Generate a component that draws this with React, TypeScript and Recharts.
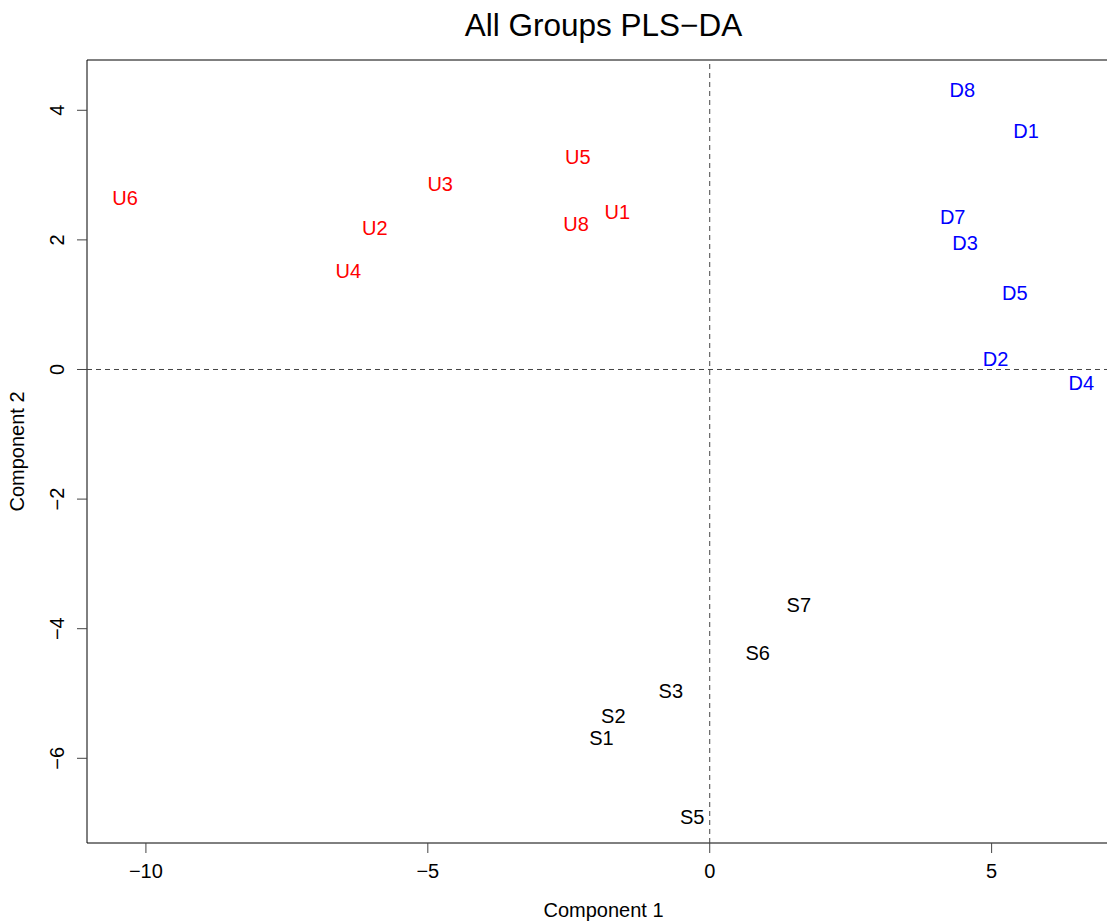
import React from 'react';
import { ReferenceArea, ReferenceLine, Scatter, ScatterChart, XAxis, YAxis } from 'recharts';

const FONT = '"Liberation Sans", Arial, Helvetica, sans-serif';

// group U (red)
const uLabels = ['U1', 'U2', 'U3', 'U4', 'U5', 'U6', 'U8'];
const uX = [-1.64, -5.94, -4.78, -6.41, -2.34, -10.37, -2.37];
const uY = [2.44, 2.19, 2.87, 1.52, 3.28, 2.65, 2.25];

// group D (blue)
const dLabels = ['D1', 'D2', 'D3', 'D4', 'D5', 'D7', 'D8'];
const dX = [5.61, 5.07, 4.53, 6.59, 5.41, 4.31, 4.48];
const dY = [3.68, 0.17, 1.96, -0.2, 1.19, 2.35, 4.31];

// group S (black)
const sLabels = ['S1', 'S2', 'S3', 'S5', 'S6', 'S7'];
const sX = [-1.92, -1.71, -0.69, -0.31, 0.85, 1.58];
const sY = [-5.68, -5.35, -4.96, -6.9, -4.37, -3.63];

const xTicks = [-10, -5, 0, 5];
const yTicks = [-6, -4, -2, 0, 2, 4];
const xDomain: [number, number] = [-11.045, 7.277];
const yDomain: [number, number] = [-7.307, 4.776];

const toPoints = (labels: string[], xs: number[], ys: number[]) =>
  labels.map((label, i) => ({ label, x: xs[i], y: ys[i] }));

const fmt = (v: number) => (v < 0 ? `\u2212${Math.abs(v)}` : `${v}`);

function labelShape(color: string) {
  return (props: any) => (
    <text
      x={props.cx}
      y={props.cy}
      dy="0.36em"
      textAnchor="middle"
      fontSize={20}
      fontFamily={FONT}
      fill={color}
    >
      {props.payload.label}
    </text>
  );
}

function XTick(props: any) {
  return (
    <text x={props.x} y={props.y} dy="0.71em" textAnchor="middle" fontSize={20} fontFamily={FONT} fill="#000">
      {fmt(props.payload.value)}
    </text>
  );
}

function YTick(props: any) {
  const cx = props.x - 7.5;
  return (
    <text
      x={cx}
      y={props.y}
      dy="0.36em"
      textAnchor="middle"
      transform={`rotate(-90, ${cx}, ${props.y})`}
      fontSize={20}
      fontFamily={FONT}
      fill="#000"
    >
      {fmt(props.payload.value)}
    </text>
  );
}

export default function App() {
  return (
    <div style={{ position: 'fixed', left: 0, top: 0, width: 1107, height: 921, overflow: 'hidden', background: '#fff' }}>
      <div
        style={{
          position: 'absolute',
          left: 0,
          top: 10.1,
          width: 1207,
          textAlign: 'center',
          fontFamily: FONT,
          fontSize: 31.5,
          lineHeight: '31.5px',
          color: '#000',
        }}
      >
        All Groups PLS{'\u2212'}DA
      </div>
      <ScatterChart width={1130} height={921} margin={{ top: 60, right: 10, bottom: 0, left: 0 }}>
        <XAxis
          type="number"
          dataKey="x"
          domain={xDomain}
          ticks={xTicks}
          interval={0}
          allowDataOverflow
          height={78}
          axisLine={false}
          tickLine={{ stroke: '#444' }}
          tickSize={10}
          tickMargin={10.5}
          tick={<XTick />}
          label={{
            value: 'Component 1',
            content: ({ viewBox }: any) => (
              <text
                x={viewBox.x + viewBox.width / 2}
                y={viewBox.y + viewBox.height - 4}
                textAnchor="middle"
                fontSize={20}
                fontFamily={FONT}
                fill="#000"
              >
                Component 1
              </text>
            ),
          }}
        />
        <YAxis
          type="number"
          dataKey="y"
          domain={yDomain}
          ticks={yTicks}
          interval={0}
          allowDataOverflow
          width={87}
          axisLine={false}
          tickLine={{ stroke: '#444' }}
          tickSize={10}
          tickMargin={13}
          tick={<YTick />}
          label={{
            value: 'Component 2',
            content: ({ viewBox }: any) => {
              const cx = viewBox.x + 17;
              const cy = viewBox.y + viewBox.height / 2;
              return (
                <text
                  x={cx}
                  y={cy}
                  dy="0.36em"
                  textAnchor="middle"
                  transform={`rotate(-90, ${cx}, ${cy})`}
                  fontSize={20}
                  fontFamily={FONT}
                  fill="#000"
                >
                  Component 2
                </text>
              );
            },
          }}
        />
        <ReferenceArea
          x1={xDomain[0]}
          x2={xDomain[1]}
          y1={yDomain[0]}
          y2={yDomain[1]}
          fill="none"
          stroke="#000"
          strokeWidth={1}
          ifOverflow="visible"
        />
        <ReferenceLine x={0} stroke="#444" strokeDasharray="5 4" />
        <ReferenceLine y={0} stroke="#444" strokeDasharray="5 4" />
        <Scatter data={toPoints(uLabels, uX, uY)} shape={labelShape('#ff0000')} isAnimationActive={false} />
        <Scatter data={toPoints(dLabels, dX, dY)} shape={labelShape('#0000ff')} isAnimationActive={false} />
        <Scatter data={toPoints(sLabels, sX, sY)} shape={labelShape('#000000')} isAnimationActive={false} />
      </ScatterChart>
    </div>
  );
}
